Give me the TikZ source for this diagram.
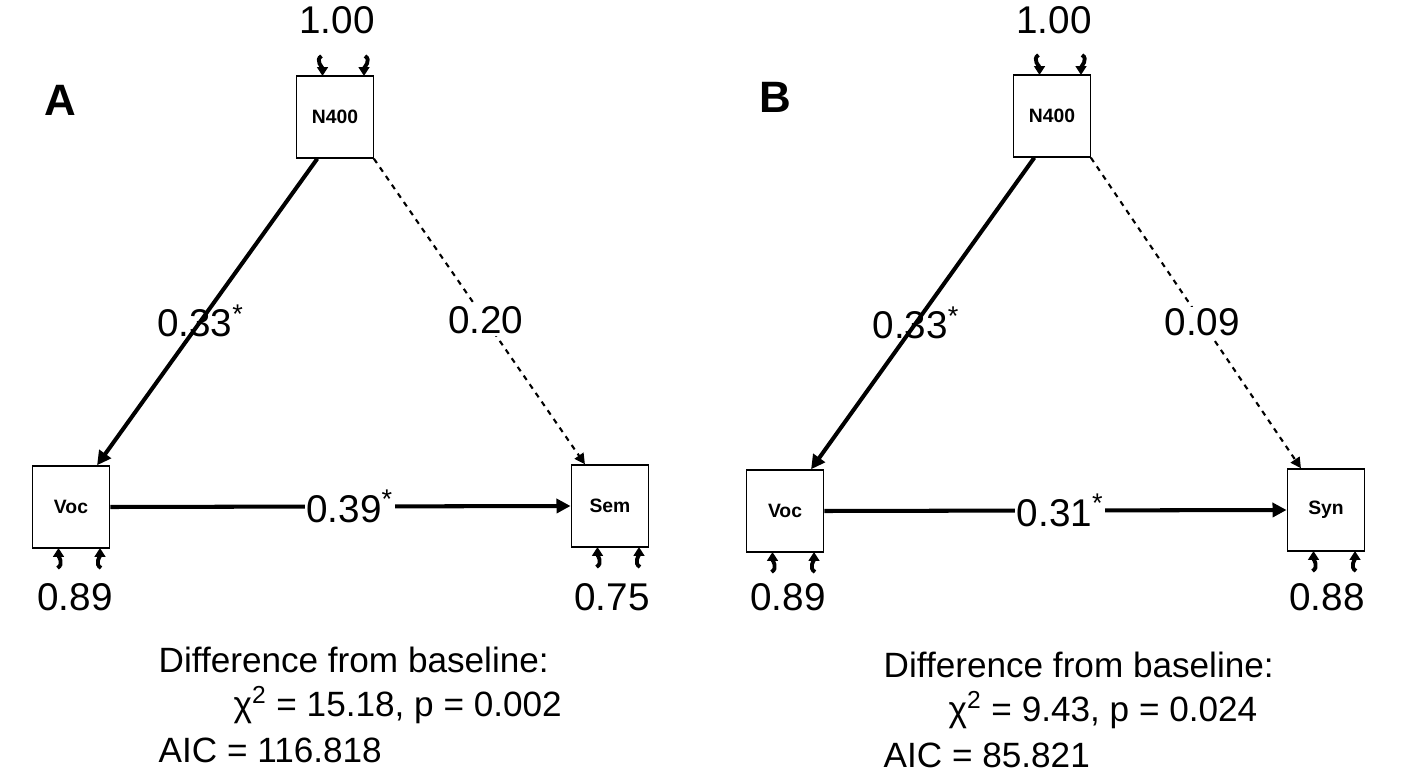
\documentclass[tikz,border=0pt]{standalone}
\usepackage{fontspec}
\setmainfont{Liberation Sans}
\usetikzlibrary{arrows.meta, calc}
\tikzset{
    var/.style={draw, thick, fill=white, minimum width=1.55cm, minimum height=1.64cm, font=\bfseries\fontsize{11}{11}\selectfont},
    eff/.style={line width=2.3pt, -{Triangle[length=8pt,width=8pt]}},
    nseff/.style={line width=1.2pt, dashed, -{Triangle[length=6pt,width=6pt]}},
    coef/.style={font=\fontsize{22}{22}\selectfont, inner sep=1pt},
    res/.style={line width=2.2pt, -{Triangle[length=5pt,width=6pt]}},
    panel/.style={font=\bfseries\fontsize{25}{25}\selectfont},
    info/.style={font=\fontsize{20}{22}\selectfont, anchor=west},
}
\begin{document}
\begin{tikzpicture}
    \useasboundingbox (0,0) rectangle (28.18,15.56);

    % panel A
    \node[panel] (labA) at (1.2,13.56) {A};
    \node[var] (nA) at (6.70,13.22) {N400};
    \node[var] (vA) at (1.42,5.42) {Voc};
    \node[var] (sA) at (12.20,5.44) {Sem};

    % panel B
    \node[panel] (labB) at (15.5,13.62) {B};
    \node[var] (nB) at (21.04,13.24) {N400};
    \node[var] (vB) at (15.70,5.34) {Voc};
    \node[var] (sB) at (26.52,5.36) {Syn};

    % residual variances
    \foreach \n/\s in {nA/1, nB/1, vA/-1, sA/-1, vB/-1, sB/-1} {
        \coordinate (l\n) at ($(\n.center)+(-0.27,\s*1.22)$);
        \coordinate (r\n) at ($(\n.center)+(0.6,\s*1.22)$);
        \draw[res] (l\n) to[out=\s*-90-60,in=\s*90] ($(\n.center)+(-0.25,\s*0.82)$);
        \draw[res] (r\n) to[out=\s*-90+60,in=\s*90] ($(\n.center)+(0.58,\s*0.82)$);
    }
    \node[coef] (vnA) at (6.74,15.16) {1.00};
    \node[coef] (vnB) at (21.08,15.16) {1.00};
    \node[coef] (vvA) at (1.50,3.62) {0.89};
    \node[coef] (vsA) at (12.24,3.62) {0.75};
    \node[coef] (vvB) at (15.76,3.62) {0.89};
    \node[coef] (vsB) at (26.54,3.62) {0.88};

    % paths
    \draw[eff] (nA.247) -- (vA.58)
        node[coef, pos=0.53] {0.33\textsuperscript{*}};
    \draw[nseff] (nA.313) -- (sA.121)
        node[coef, fill=white, pos=0.53] {0.20};
    \draw[eff] (vA.east) -- (sA.west)
        node[coef, fill=white, pos=0.52] {0.39\textsuperscript{*}};

    \draw[eff] (nB.247) -- (vB.58)
        node[coef, pos=0.53] {0.33\textsuperscript{*}};
    \draw[nseff] (nB.313) -- (sB.121)
        node[coef, fill=white, pos=0.53] {0.09};
    \draw[eff] (vB.east) -- (sB.west)
        node[coef, fill=white, pos=0.51] {0.31\textsuperscript{*}};

    % fit statistics
    \node[info] (dA) at (3.05,2.36) {Difference from baseline:};
    \node[info] (cA) at (4.55,1.46) {χ\textsuperscript{2} = 15.18, p = 0.002};
    \node[info] (aA) at (3.05,0.56) {AIC = 116.818};
    \node[info] (dB) at (17.55,2.26) {Difference from baseline:};
    \node[info] (cB) at (18.85,1.36) {χ\textsuperscript{2} = 9.43, p = 0.024};
    \node[info] (aB) at (17.55,0.46) {AIC = 85.821};
\end{tikzpicture}
\end{document}
